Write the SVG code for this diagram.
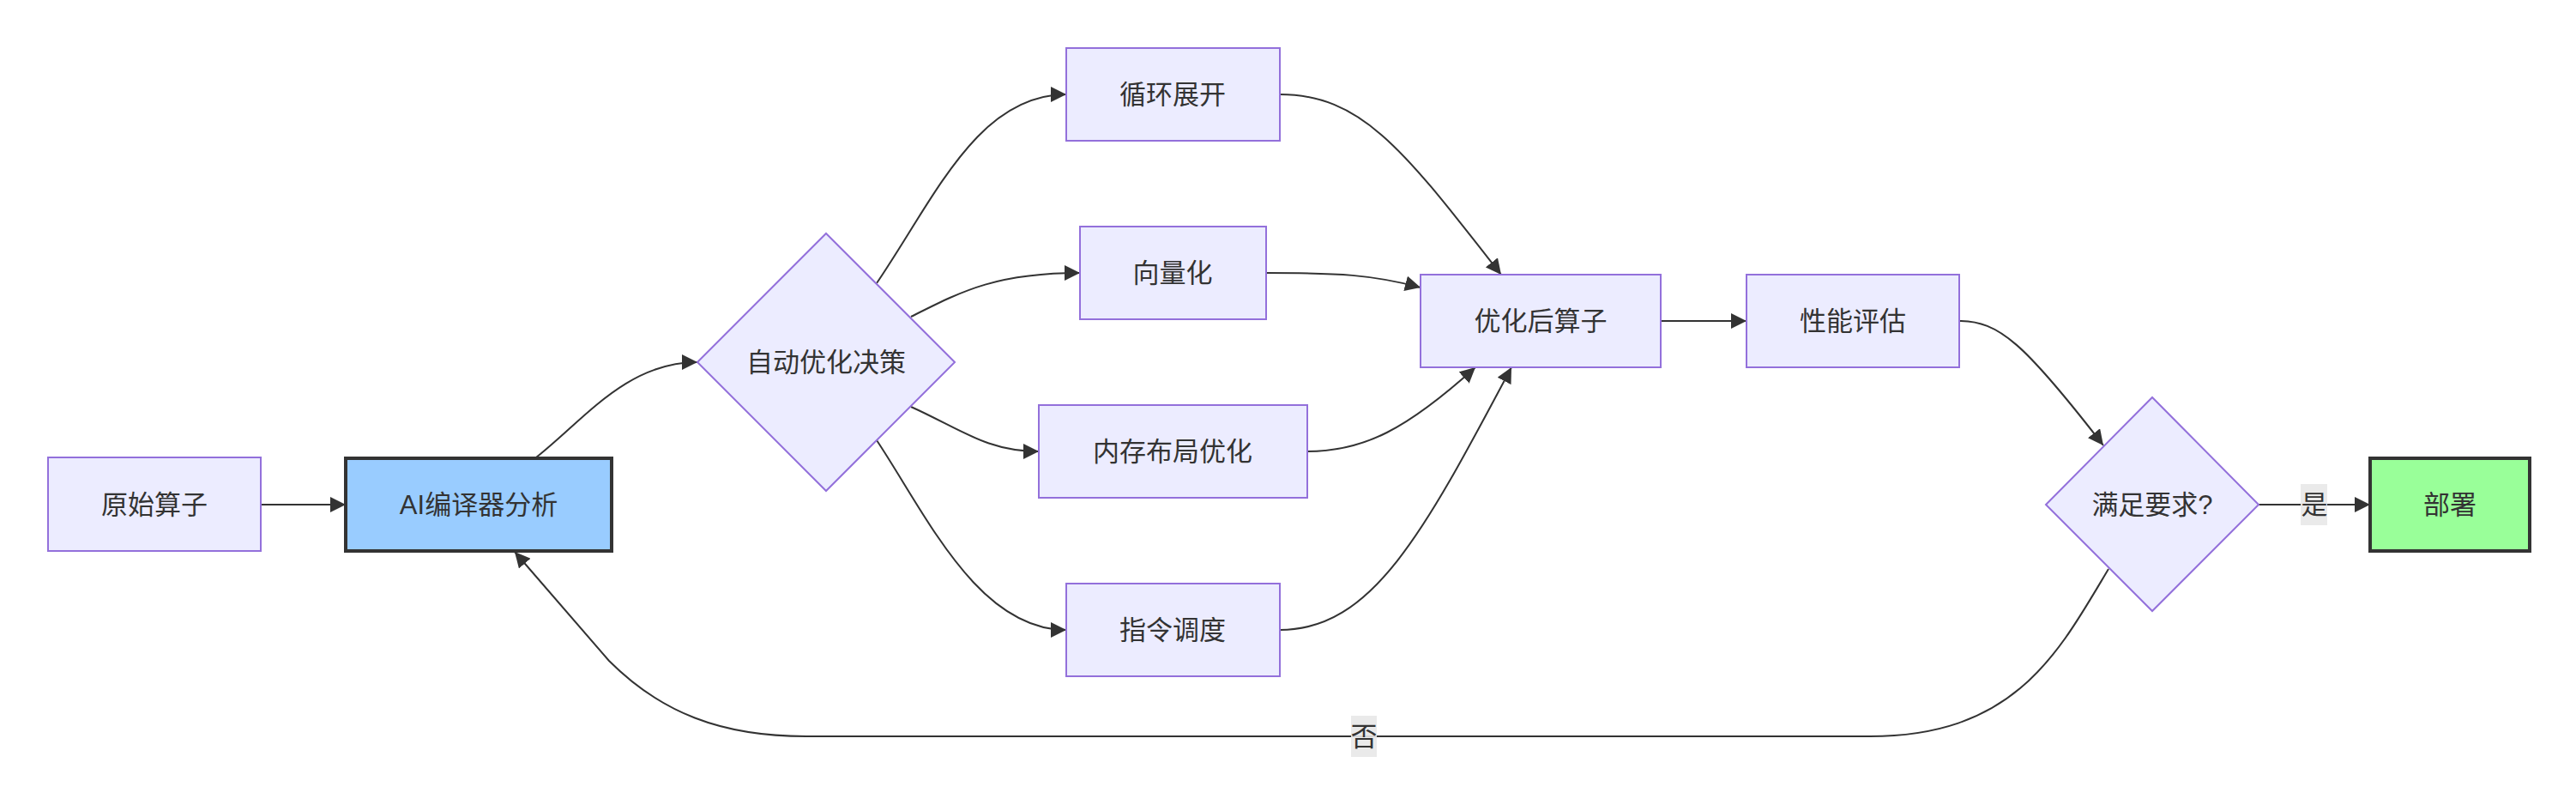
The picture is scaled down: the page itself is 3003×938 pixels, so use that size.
<svg xmlns="http://www.w3.org/2000/svg" width="3003" height="938" viewBox="0 0 3003 938">
<style>
.node{fill:#ECECFF;stroke:#9370DB;stroke-width:2}
.t{font-family:"Liberation Sans","Noto Sans CJK SC",sans-serif;font-size:31px;fill:#333;text-anchor:middle;dominant-baseline:central}
.e{fill:none;stroke:#333;stroke-width:2}
.lbl{fill:#e8e8e8;opacity:0.9}
</style>
<defs>
<marker id="arr" viewBox="0 0 10 10" refX="10" refY="5" markerUnits="userSpaceOnUse" markerWidth="18" markerHeight="18" orient="auto">
<path d="M0,0 L10,5 L0,10 z" fill="#333"/>
</marker>
</defs>
<rect width="3003" height="938" fill="#fff"/>
<g id="edges">
<path class="e" marker-end="url(#arr)" d="M304,588 L403,588"/>
<path class="e" marker-end="url(#arr)" d="M625,533 C680,490 730,422 813,422"/>
<path class="e" marker-end="url(#arr)" d="M1022,330 C1090,230 1140,110 1243,110"/>
<path class="e" marker-end="url(#arr)" d="M1062,369 C1120,340 1160,318 1259,318"/>
<path class="e" marker-end="url(#arr)" d="M1062,474 C1120,500 1150,526 1211,526"/>
<path class="e" marker-end="url(#arr)" d="M1022,513 C1080,600 1140,734 1243,734"/>
<path class="e" marker-end="url(#arr)" d="M1492,110 C1590,110 1640,180 1750,320"/>
<path class="e" marker-end="url(#arr)" d="M1476,318 C1560,318 1600,320 1656,335"/>
<path class="e" marker-end="url(#arr)" d="M1524,526 C1590,526 1640,500 1720,428"/>
<path class="e" marker-end="url(#arr)" d="M1492,734 C1600,734 1660,620 1762,428"/>
<path class="e" marker-end="url(#arr)" d="M1936,374 L2036,374"/>
<path class="e" marker-end="url(#arr)" d="M2284,374 C2330,374 2360,400 2452,519"/>
<path class="e" marker-end="url(#arr)" d="M2633,588 L2763,588"/>
<path class="e" marker-end="url(#arr)" d="M2458,663 C2400,760 2350,858 2180,858 L940,858 C840,858 770,830 710,770 L600,643"/>
<rect class="lbl" x="2682" y="564" width="31" height="48"/>
<text class="t" x="2698" y="588">是</text>
<rect class="lbl" x="1575" y="834" width="30" height="48"/>
<text class="t" x="1590" y="858">否</text>
</g>
<g id="n_orig"><rect class="node" x="56" y="533" width="248" height="109"/><text class="t" x="180" y="588">原始算子</text></g>
<g id="n_ai"><rect x="403" y="534" width="310" height="108" fill="#99ccff" stroke="#333" stroke-width="4"/><text class="t" x="558" y="588">AI编译器分析</text></g>
<g id="n_decide"><polygon class="node" points="963,272 1113,422 963,572 813,422"/><text class="t" x="963" y="422">自动优化决策</text></g>
<g id="n_loop"><rect class="node" x="1243" y="56" width="249" height="108"/><text class="t" x="1367" y="110">循环展开</text></g>
<g id="n_vec"><rect class="node" x="1259" y="264" width="217" height="108"/><text class="t" x="1367" y="318">向量化</text></g>
<g id="n_mem"><rect class="node" x="1211" y="472" width="313" height="108"/><text class="t" x="1367" y="526">内存布局优化</text></g>
<g id="n_sched"><rect class="node" x="1243" y="680" width="249" height="108"/><text class="t" x="1367" y="734">指令调度</text></g>
<g id="n_opt"><rect class="node" x="1656" y="320" width="280" height="108"/><text class="t" x="1796" y="374">优化后算子</text></g>
<g id="n_perf"><rect class="node" x="2036" y="320" width="248" height="108"/><text class="t" x="2160" y="374">性能评估</text></g>
<g id="n_ok"><polygon class="node" points="2509,463 2633,588 2509,712 2385,588"/><text class="t" x="2509" y="588">满足要求?</text></g>
<g id="n_deploy"><rect x="2763" y="534" width="186" height="108" fill="#99ff99" stroke="#333" stroke-width="4"/><text class="t" x="2856" y="588">部署</text></g>
</svg>
